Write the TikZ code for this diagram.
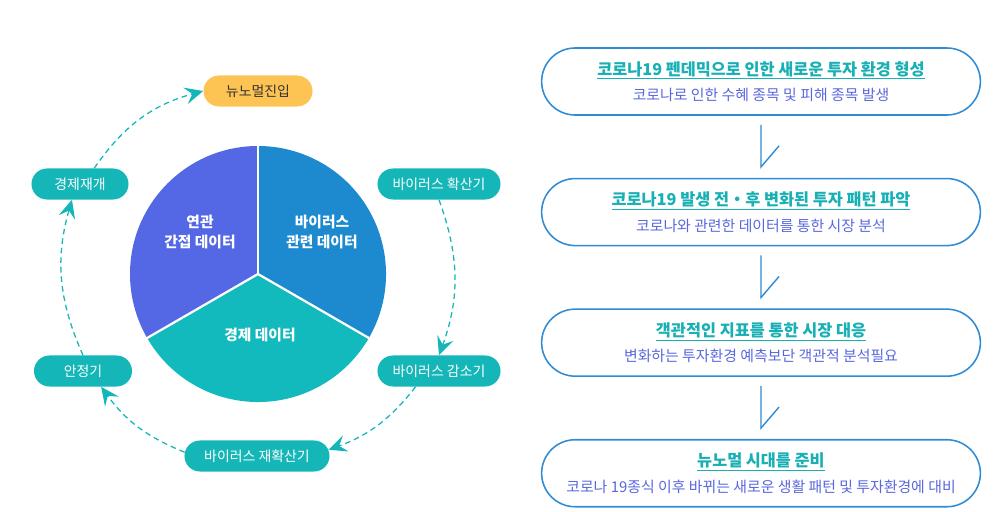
\documentclass[tikz,border=0pt]{standalone}
\usepackage{fontspec}
\setmainfont{Noto Sans CJK KR}
\usetikzlibrary{arrows.meta,positioning,shapes.misc}
\definecolor{CycleTeal}{RGB}{21,182,184}
\definecolor{PieTeal}{RGB}{18,186,190}
\definecolor{PieViolet}{RGB}{84,103,228}
\definecolor{PieBlue}{RGB}{29,137,207}
\definecolor{NormalYellow}{RGB}{253,196,84}
\definecolor{FlowBlue}{RGB}{47,140,212}
\definecolor{TitleTeal}{RGB}{24,176,180}
\definecolor{SubBlue}{RGB}{90,104,222}
\tikzset{
  phase/.style={rounded rectangle,fill=CycleTeal,text=white,inner sep=0pt,
    minimum height=0.775cm,font=\fontsize{9.9}{11}\selectfont},
  slicelabel/.style={text=white,align=center,font=\bfseries\fontsize{10.5}{14}\selectfont},
  stepbox/.style={rounded rectangle,draw=FlowBlue,line width=1.1pt,fill=white,
    minimum width=11.2cm,minimum height=1.675cm,align=center},
  cyclearrow/.style={-{Stealth[length=13pt,width=12pt,inset=5pt]},CycleTeal,
    line width=0.9pt,dash pattern=on 4pt off 2.8pt},
  flowarrow/.style={-{Straight Barb[harpoon,length=0.525cm,width=0.9cm]},FlowBlue,
    line width=1pt,shorten <=0.225cm,shorten >=0.225cm}
}
\newcommand{\steptext}[2]{{\color{TitleTeal}\bfseries\fontsize{11.6}{13}\selectfont\underline{#1}}\\[6pt]
  {\color{SubBlue}\fontsize{10.6}{12}\selectfont #2}}

\begin{document}
\begin{tikzpicture}[x=0.025cm,y=0.025cm,node distance=1.55cm]
  \useasboundingbox (0,0) rectangle (1000,-512);

  % pie of data sources
  \coordinate (pie) at (258,-274);
  \fill[PieViolet] (pie) -- ++(90:128) arc (90:210:128) -- cycle;
  \fill[PieTeal] (pie) -- ++(210:128) arc (210:330:128) -- cycle;
  \fill[PieBlue] (pie) -- ++(-30:128) arc (-30:90:128) -- cycle;
  \foreach \a in {90,210,330}
    \draw[white,line width=1.6pt] (pie) -- ++(\a:128.5);

  \node[slicelabel] (related) at (200,-232) {연관\\간접 데이터};
  \node[slicelabel] (virus) at (322,-232) {바이러스\\관련 데이터};
  \node[slicelabel] (economy) at (260,-335) {경제 데이터};

  % cycle
  \node[phase,fill=NormalYellow,text=black!80,minimum width=2.725cm] (newnormal) at (258,-91) {뉴노멀진입};
  \node[phase,minimum width=3.075cm] (spread) at (439,-184) {바이러스 확산기};
  \node[phase,minimum width=3.075cm] (decline) at (439,-371) {바이러스 감소기};
  \node[phase,minimum width=3.625cm] (reburst) at (257,-456) {바이러스 재확산기};
  \node[phase,minimum width=2.45cm] (stable) at (83,-371) {안정기};
  \node[phase,minimum width=2.425cm] (restart) at (80,-184) {경제재개};

  \draw[cyclearrow] (restart.48) to[bend left=20] (newnormal.west);
  \draw[cyclearrow] (spread.south) to[bend left=20] (decline.north);
  \draw[cyclearrow] (decline.214) to[bend left=16] (reburst.5);
  \draw[cyclearrow] (reburst.177) to[bend left=16] (stable.-41);
  \draw[cyclearrow] (stable.north) to[bend left=20] (restart.243);

  % steps
  \node[stepbox] (step1) at (761,-81.5)
    {\steptext{코로나19 펜데믹으로 인한 새로운 투자 환경 형성}{코로나로 인한 수혜 종목 및 피해 종목 발생}};
  \node[stepbox,below=of step1] (step2)
    {\steptext{코로나19 발생 전・후 변화된 투자 패턴 파악}{코로나와 관련한 데이터를 통한 시장 분석}};
  \node[stepbox,below=of step2] (step3)
    {\steptext{객관적인 지표를 통한 시장 대응}{변화하는 투자환경 예측보단 객관적 분석필요}};
  \node[stepbox,below=of step3] (step4)
    {\steptext{뉴노멀 시대를 준비}{코로나 19종식 이후 바뀌는 새로운 생활 패턴 및 투자환경에 대비}};

  \draw[flowarrow] (step1) -- (step2);
  \draw[flowarrow] (step2) -- (step3);
  \draw[flowarrow] (step3) -- (step4);
\end{tikzpicture}
\end{document}
